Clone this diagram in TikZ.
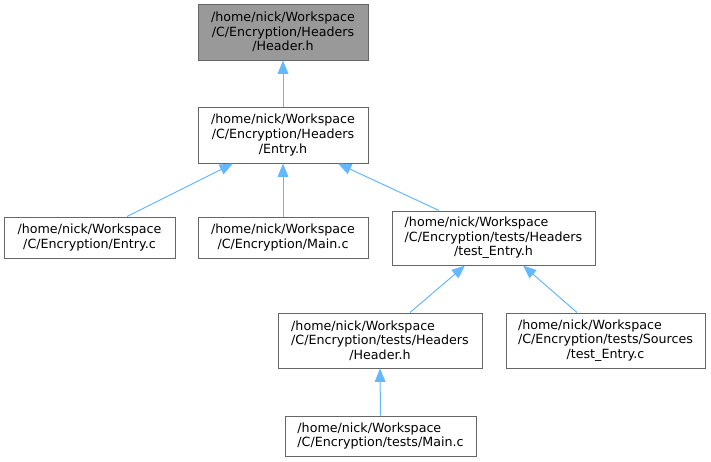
\documentclass[tikz,border=0pt]{standalone}
\usepackage{fontspec}
\setmainfont{DejaVu Sans}
\usetikzlibrary{arrows.meta}
\definecolor{edgeblue}{HTML}{63B8FF}
\definecolor{boxline}{HTML}{666666}
\definecolor{rootfill}{HTML}{999999}
\newlength\lftw
\newcommand{\lft}[2]{\settowidth\lftw{#2}\makebox[\lftw][l]{#1}}
\begin{document}
\begin{tikzpicture}[x=0.75pt,y=-0.75pt,
  file/.style={draw=boxline,fill=white,line width=0.75pt,inner sep=0pt,align=center,
    font=\fontsize{9.5pt}{10.9pt}\selectfont},
  root/.style={file,fill=rootfill},
  dep/.style={draw=edgeblue,line width=0.75pt,-{Triangle[length=10pt,width=8pt]}}]
\useasboundingbox (0,0) rectangle (711,461);
\node[root,minimum width=170*0.75pt,minimum height=56*0.75pt] (hdr) at (283,32)
  {/home/nick/Workspace\\/C/Encryption/Headers\\/Header.h};
\node[file,minimum width=170*0.75pt,minimum height=56*0.75pt] (ent) at (283,135)
  {/home/nick/Workspace\\/C/Encryption/Headers\\/Entry.h};
\node[file,minimum width=171*0.75pt,minimum height=41*0.75pt] (ec) at (89.5,237.5)
  {/home/nick/Workspace\\/C/Encryption/Entry.c};
\node[file,minimum width=170*0.75pt,minimum height=41*0.75pt] (mc) at (283,237.5)
  {/home/nick/Workspace\\/C/Encryption/Main.c};
\node[file,minimum width=203*0.75pt,minimum height=54*0.75pt] (te) at (493.5,238)
  {\lft{/home/nick/Workspace}{/C/Encryption/tests/Headers}\\/C/Encryption/tests/Headers\\/test\_Entry.h};
\node[file,minimum width=204*0.75pt,minimum height=55*0.75pt] (th) at (380,340.5)
  {\lft{/home/nick/Workspace}{/C/Encryption/tests/Headers}\\/C/Encryption/tests/Headers\\/Header.h};
\node[file,minimum width=199*0.75pt,minimum height=55*0.75pt] (tc) at (605.5,340.5)
  {\lft{/home/nick/Workspace}{/C/Encryption/tests/Sources}\\/C/Encryption/tests/Sources\\/test\_Entry.c};
\node[file,minimum width=191*0.75pt,minimum height=40*0.75pt] (tm) at (380.5,436)
  {\lft{/home/nick/Workspace}{/C/Encryption/tests/Main.c}\\/C/Encryption/tests/Main.c};
\draw[dep] (ent.north) -- (hdr.south);
\draw[dep] ([xshift=37.5*0.75pt]ec.north) -- ([xshift=-50*0.75pt]ent.south);
\draw[dep] (mc.north) -- (ent.south);
\draw[dep] ([xshift=-54.5*0.75pt]te.north) -- ([xshift=55*0.75pt]ent.south);
\draw[dep] ([xshift=30*0.75pt]th.north) -- ([xshift=-28.5*0.75pt]te.south);
\draw[dep] ([xshift=-28.5*0.75pt]tc.north) -- ([xshift=29.5*0.75pt]te.south);
\draw[dep] (tm.north) -- (th.south);
\end{tikzpicture}
\end{document}
